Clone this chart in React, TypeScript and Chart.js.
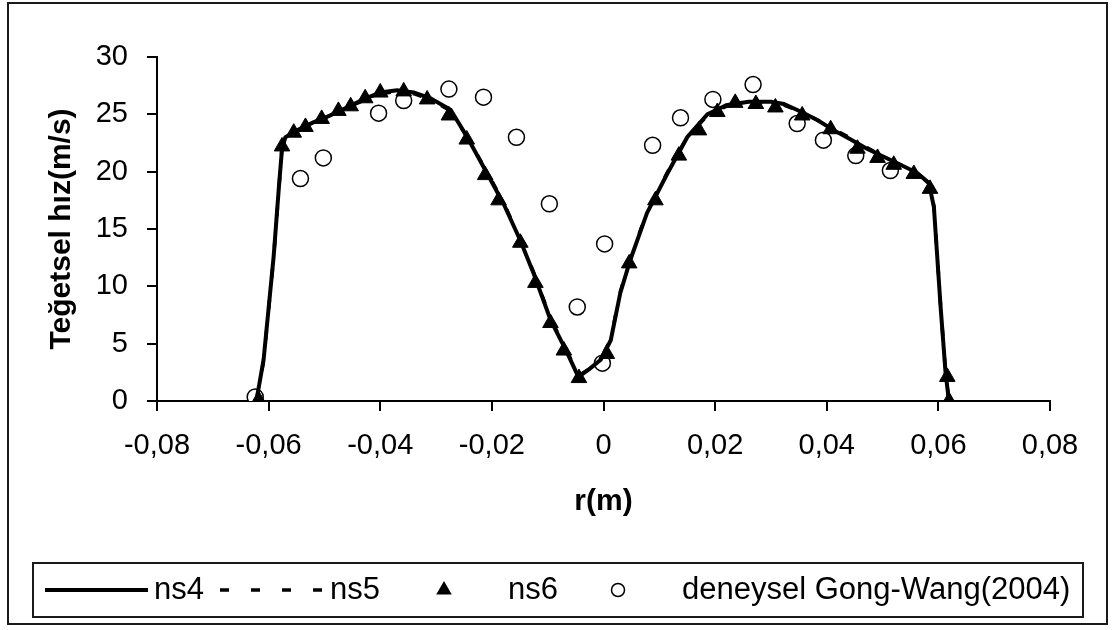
import React, { useEffect, useRef } from 'react';
import { Chart, registerables } from 'chart.js';

Chart.register(...registerables);

// ---- data ----
const lineX = [
  -0.0622, -0.0609, -0.0591, -0.0582, -0.0576, -0.057, -0.055, -0.052, -0.049, -0.046,
  -0.043, -0.04, -0.037, -0.034, -0.031, -0.0274, -0.0244, -0.0208, -0.0179, -0.0149,
  -0.0125, -0.0095, -0.0065, -0.0045, -0.0025, -0.0005, 0.0013, 0.003, 0.0048, 0.0078,
  0.0114, 0.015, 0.0186, 0.022, 0.026, 0.03, 0.0323, 0.0355, 0.0383, 0.0413,
  0.0443, 0.0472, 0.0502, 0.0532, 0.0562, 0.0583, 0.0592, 0.0604, 0.0613, 0.0619,
];
const ns4Y = [
  0, 3.6, 12.6, 18.4, 22.0, 23.0, 23.6, 24.3, 24.9, 25.6,
  26.3, 26.9, 27.1, 26.9, 26.4, 25.4, 23.0, 19.8, 17.2, 14.0,
  11.1, 7.1, 4.2, 2.1, 2.8, 3.6, 5.3, 9.4, 12.3, 16.4,
  19.8, 23.0, 25.0, 25.8, 26.1, 26.1, 25.9, 25.2, 24.5, 23.6,
  22.8, 22.0, 21.3, 20.6, 19.9, 19.0, 16.9, 8.2, 2.4, 0,
];
const ns5Y = [
  0, 3.5, 12.5, 18.3, 22.1, 23.0, 23.5, 24.2, 24.9, 25.6,
  26.2, 26.8, 27.0, 26.8, 26.3, 25.3, 23.0, 19.9, 17.3, 14.1,
  11.2, 7.2, 4.3, 2.2, 2.8, 3.7, 5.4, 9.5, 12.4, 16.5,
  19.9, 23.0, 24.9, 25.7, 26.0, 26.0, 25.8, 25.2, 24.5, 23.7,
  22.9, 22.1, 21.3, 20.6, 19.9, 19.0, 17.0, 8.3, 2.4, 0,
];
const ns6X = [
  -0.0618, -0.0576, -0.0555, -0.0534, -0.0505, -0.0475, -0.0453, -0.0427, -0.04, -0.0358,
  -0.0316, -0.0277, -0.0245, -0.0212, -0.0188, -0.0149, -0.0122, -0.0095, -0.0071, -0.0044,
  0.0006, 0.0046, 0.0093, 0.0135, 0.0171, 0.0204, 0.0236, 0.0273, 0.0308, 0.0356,
  0.0407, 0.0455, 0.0491, 0.052, 0.0556, 0.0585, 0.0616, 0.0619,
];
const ns6Y = [
  0.1, 22.2, 23.4, 23.9, 24.6, 25.3, 25.7, 26.4, 26.9, 27.0,
  26.3, 24.9, 22.8, 19.7, 17.5, 13.8, 10.3, 6.8, 4.4, 2.0,
  4.1, 12.0, 17.5, 21.4, 23.6, 25.2, 26.0, 25.9, 25.6, 24.9,
  23.7, 22.0, 21.2, 20.6, 19.8, 18.5, 2.1, 0,
];
const expX = [
  -0.0624, -0.0543, -0.0502, -0.0403, -0.0358, -0.0277, -0.0215, -0.0156, -0.0097, -0.0047,
  -0.0002, 0.0002, 0.0088, 0.0138, 0.0196, 0.0268, 0.0347, 0.0394, 0.0452, 0.0514,
];
const expY = [
  0.35, 19.4, 21.2, 25.1, 26.2, 27.2, 26.5, 23.0, 17.2, 8.2,
  3.3, 13.7, 22.3, 24.7, 26.3, 27.6, 24.2, 22.75, 21.4, 20.1,
];
const seriesNames = ['ns4', 'ns5', 'ns6', 'deneysel Gong-Wang(2004)'];
const xTitle = 'r(m)';
const yTitle = 'Teğetsel hız(m/s)';
const xRange = [-0.08, 0.08];
const xStep = 0.02;
const yRange = [0, 30];
const yStep = 5;

const FONT = "'Liberation Sans', Arial, sans-serif";
const INK = '#000';

const toPts = (xs: number[], ys: number[]) => xs.map((x, i) => ({ x, y: ys[i] }));

const framePlugin = {
  id: 'frameAndLegend',
  beforeDraw(chart: any) {
    const ctx = chart.ctx;
    ctx.save();
    ctx.fillStyle = '#fff';
    ctx.fillRect(0, 0, chart.width, chart.height);
    ctx.restore();
  },
  afterDraw(chart: any) {
    const ctx = chart.ctx;
    const ds = chart.data.datasets;
    ctx.save();
    ctx.strokeStyle = '#1a1a1a';
    ctx.lineWidth = 2;
    ctx.strokeRect(8, 3, 1099, 621);
    ctx.strokeRect(33, 563, 1050, 54);

    const cy = 590;
    ctx.font = `31px ${FONT}`;
    ctx.fillStyle = INK;
    ctx.textBaseline = 'middle';
    ctx.textAlign = 'left';

    // ns4 solid line sample
    ctx.strokeStyle = ds[0].borderColor;
    ctx.lineWidth = ds[0].borderWidth;
    ctx.setLineDash([]);
    ctx.beginPath();
    ctx.moveTo(45, cy);
    ctx.lineTo(148, cy);
    ctx.stroke();
    ctx.fillText(ds[0].label, 154, cy);

    // ns5 dashed sample
    ctx.strokeStyle = ds[1].borderColor;
    ctx.lineWidth = ds[1].borderWidth;
    ctx.setLineDash(ds[1].borderDash);
    ctx.beginPath();
    ctx.moveTo(220, cy);
    ctx.lineTo(330, cy);
    ctx.stroke();
    ctx.setLineDash([]);
    ctx.fillText(ds[1].label, 330, cy);

    // ns6 triangle
    const r = ds[2].pointRadius;
    ctx.fillStyle = ds[2].backgroundColor;
    ctx.beginPath();
    ctx.moveTo(444, cy - r);
    ctx.lineTo(444 + r * Math.sin((2 * Math.PI) / 3), cy - r * Math.cos((2 * Math.PI) / 3));
    ctx.lineTo(444 + r * Math.sin((4 * Math.PI) / 3), cy - r * Math.cos((4 * Math.PI) / 3));
    ctx.closePath();
    ctx.fill();
    ctx.fillStyle = INK;
    ctx.fillText(ds[2].label, 508, cy);

    // experimental circle
    ctx.strokeStyle = ds[3].borderColor;
    ctx.lineWidth = ds[3].borderWidth;
    ctx.fillStyle = ds[3].backgroundColor;
    ctx.beginPath();
    ctx.arc(618, cy, 6.5, 0, Math.PI * 2);
    ctx.fill();
    ctx.stroke();
    ctx.fillStyle = INK;
    ctx.fillText(ds[3].label, 682, cy);
    ctx.restore();
  },
};

export default function App() {
  const ref = useRef<HTMLCanvasElement | null>(null);

  useEffect(() => {
    if (!ref.current) return;
    const chart = new Chart(ref.current, {
      type: 'scatter',
      data: {
        datasets: [
          {
            label: seriesNames[0],
            data: toPts(lineX, ns4Y),
            showLine: true,
            borderColor: INK,
            backgroundColor: INK,
            borderWidth: 4,
            pointRadius: 0,
            pointHoverRadius: 0,
            tension: 0,
            order: 1,
          },
          {
            label: seriesNames[1],
            data: toPts(lineX, ns5Y),
            showLine: true,
            borderColor: INK,
            backgroundColor: INK,
            borderWidth: 3.5,
            borderDash: [9, 22],
            pointRadius: 0,
            pointHoverRadius: 0,
            tension: 0,
            order: 2,
          },
          {
            label: seriesNames[2],
            data: toPts(ns6X, ns6Y),
            showLine: false,
            pointStyle: 'triangle',
            pointRadius: 9,
            pointHoverRadius: 9,
            backgroundColor: INK,
            borderColor: INK,
            borderWidth: 1,
            order: 3,
          },
          {
            label: seriesNames[3],
            data: toPts(expX, expY),
            showLine: false,
            pointStyle: 'circle',
            pointRadius: 8,
            pointHoverRadius: 8,
            backgroundColor: '#fff',
            borderColor: INK,
            borderWidth: 1.5,
            order: 4,
          },
        ],
      },
      options: {
        animation: false,
        responsive: false,
        devicePixelRatio: 1,
        events: [],
        layout: { padding: { left: 8, right: 64, top: 57, bottom: 110 } },
        plugins: {
          legend: { display: false },
          tooltip: { enabled: false },
        },
        scales: {
          x: {
            type: 'linear',
            min: xRange[0],
            max: xRange[1],
            afterFit: (s: any) => {
              s.height = 119;
            },
            ticks: {
              stepSize: xStep,
              autoSkip: false,
              maxRotation: 0,
              padding: 18,
              color: INK,
              font: { family: FONT, size: 29 },
              callback: (v: any) => {
                const n = Number(v);
                if (Math.abs(n) < 1e-9) return '0';
                return n.toFixed(2).replace('.', ',');
              },
            },
            grid: {
              drawOnChartArea: false,
              drawTicks: true,
              tickLength: 10,
              color: INK,
              lineWidth: 2,
            },
            border: { display: true, color: INK, width: 2 },
            title: {
              display: true,
              text: xTitle,
              color: INK,
              font: { family: FONT, size: 30, weight: 'bold' },
              padding: { top: 0, bottom: 0 },
            },
          },
          y: {
            type: 'linear',
            min: yRange[0],
            max: yRange[1],
            afterFit: (s: any) => {
              s.width = 149;
            },
            ticks: {
              stepSize: yStep,
              padding: 19,
              color: INK,
              font: { family: FONT, size: 29 },
            },
            grid: {
              drawOnChartArea: false,
              drawTicks: true,
              tickLength: 10,
              color: INK,
              lineWidth: 2,
            },
            border: { display: true, color: INK, width: 2 },
            title: {
              display: true,
              text: yTitle,
              color: INK,
              font: { family: FONT, size: 30, weight: 'bold' },
              padding: { top: 36, bottom: 0 },
            },
          },
        },
      },
      plugins: [framePlugin],
    } as any);
    return () => chart.destroy();
  }, []);

  return (
    <div style={{ position: 'absolute', left: 0, top: 0, width: 1114, height: 630, background: '#fff' }}>
      <canvas ref={ref} width={1114} height={630} style={{ display: 'block', width: 1114, height: 630 }} />
    </div>
  );
}
